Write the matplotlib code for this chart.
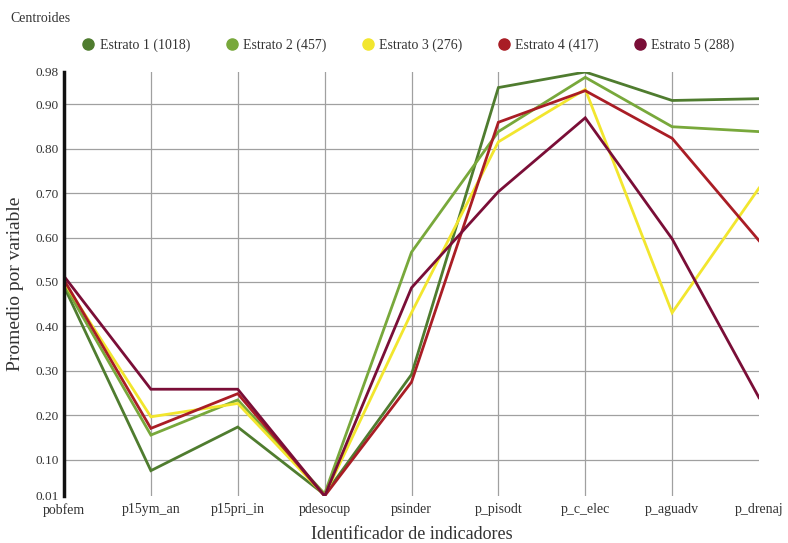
import matplotlib.pyplot as plt
from matplotlib.lines import Line2D

plt.rcParams['font.family'] = ['Liberation Serif', 'DejaVu Serif']

indicadores = ['pobfem', 'p15ym_an', 'p15pri_in', 'pdesocup', 'psinder',
               'p_pisodt', 'p_c_elec', 'p_aguadv', 'p_drenaj']

estrato1 = [0.490, 0.076, 0.174, 0.022, 0.292, 0.937, 0.972, 0.908, 0.912]
estrato2 = [0.495, 0.156, 0.235, 0.024, 0.567, 0.838, 0.960, 0.849, 0.838]
estrato3 = [0.500, 0.197, 0.227, 0.020, 0.431, 0.815, 0.933, 0.431, 0.711]
estrato4 = [0.505, 0.171, 0.249, 0.019, 0.275, 0.859, 0.930, 0.823, 0.593]
estrato5 = [0.513, 0.259, 0.259, 0.019, 0.487, 0.703, 0.869, 0.597, 0.240]

nombres = ['Estrato 1 (1018)', 'Estrato 2 (457)', 'Estrato 3 (276)',
           'Estrato 4 (417)', 'Estrato 5 (288)']
colores = ['#4f7c2f', '#78a83b', '#f2e62e', '#a91d25', '#7a0e37']
series = [estrato1, estrato2, estrato3, estrato4, estrato5]

y_min, y_max = 0.019, 0.972
y_ticks = [y_min, 0.1, 0.2, 0.3, 0.4, 0.5, 0.6, 0.7, 0.8, 0.9, y_max]
y_labels = ['0.01', '0.10', '0.20', '0.30', '0.40', '0.50', '0.60',
            '0.70', '0.80', '0.90', '0.98']

texto = '#333333'

fig = plt.figure(figsize=(7.88, 5.43), dpi=100)
ax = fig.add_axes([64/788, 1 - 496/543, (759-64)/788, (496-72)/543])

x = list(range(len(indicadores)))
for vals, col in zip(series, colores):
    ax.plot(x, vals, color=col, lw=2.0, solid_joinstyle='miter')

ax.set_xlim(0, len(indicadores) - 1)
ax.set_ylim(y_min, y_max)
ax.set_xticks(x)
ax.set_xticklabels(indicadores, fontsize=10, color=texto)
ax.set_yticks(y_ticks)
ax.set_yticklabels(y_labels, fontsize=9.5, color=texto)
ax.tick_params(length=0, pad=4)
ax.tick_params(axis='x', pad=5)

ax.grid(True, color='#a0a0a0', lw=0.9)
ax.set_axisbelow(True)
ax.get_ygridlines()[0].set_visible(False)
ax.get_ygridlines()[-1].set_visible(False)
ax.get_xgridlines()[-1].set_visible(False)

for s in ['top', 'right', 'bottom']:
    ax.spines[s].set_visible(False)
ax.spines['left'].set_linewidth(2.5)
ax.spines['left'].set_color('#111111')

ax.set_xlabel('Identificador de indicadores', fontsize=13, color=texto, labelpad=7)
ax.set_ylabel('Promedio por variable', fontsize=14, color=texto, labelpad=8)

fig.text(10/788, 1 - 18/543, 'Centroides', fontsize=10, color=texto, va='center')

handles = [Line2D([], [], marker='o', ls='', markersize=8, color=c) for c in colores]
fig.legend(handles, nombres, ncol=5, loc='center', bbox_to_anchor=(408/788, 1 - 45/543),
           frameon=False, fontsize=10, handletextpad=0.3, columnspacing=2.5,
           labelcolor=texto, handlelength=1.0)

fig.savefig('out.png', dpi=100)
